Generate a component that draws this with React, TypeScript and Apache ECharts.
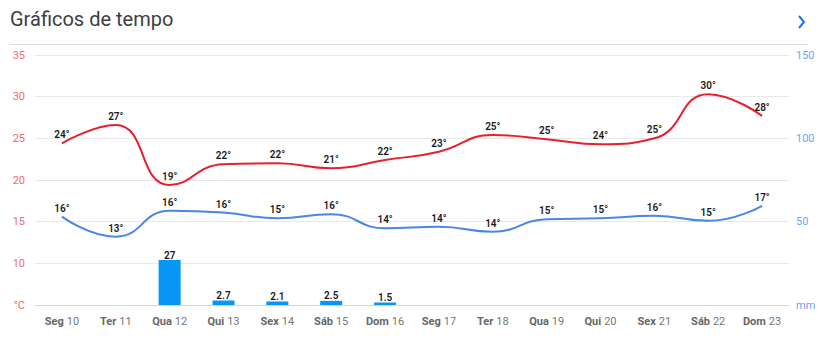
import React, { useEffect, useRef } from "react";
import * as echarts from "echarts";

const days = ["Seg", "Ter", "Qua", "Qui", "Sex", "Sáb", "Dom", "Seg", "Ter", "Qua", "Qui", "Sex", "Sáb", "Dom"];
const dates = ["10", "11", "12", "13", "14", "15", "16", "17", "18", "19", "20", "21", "22", "23"];
const maxTemp = [24.4, 26.6, 19.4, 21.9, 22.0, 21.4, 22.4, 23.4, 25.4, 24.9, 24.3, 25.0, 30.3, 27.7];
const minTemp = [15.6, 13.2, 16.3, 16.1, 15.4, 15.9, 14.2, 14.4, 13.8, 15.3, 15.4, 15.7, 15.1, 16.9];
const rain: (number | null)[] = [null, null, 27, 2.7, 2.1, 2.5, 1.5, null, null, null, null, null, null, null];

export default function App() {
  const ref = useRef<HTMLDivElement>(null);
  useEffect(() => {
    if (!ref.current) return;
    const chart = echarts.init(ref.current, null, { renderer: "svg" });
    const categories = days.map((d, i) => `${d}|${dates[i]}`);
    const tempLabel = {
      show: true,
      position: "top" as const,
      distance: 3,
      fontSize: 10,
      fontWeight: 600,
      color: "#1a1a1a",
      fontFamily: "Roboto",
      formatter: (p: any) => `${Math.round(p.value)}°`,
    };
    chart.setOption({
      animation: false,
      textStyle: { fontFamily: "Roboto" },
      grid: { left: 35, right: 35, top: 55, bottom: 49 },
      graphic: [
        {
          type: "text",
          left: 10,
          top: 9,
          style: { text: "Gráficos de tempo", fontSize: 20, fontFamily: "Roboto", fill: "#3c4043" },
        },
        {
          type: "line",
          shape: { x1: 10, y1: 44.5, x2: 808, y2: 44.5 },
          style: { stroke: "#dcdcdc", lineWidth: 1 },
        },
        {
          type: "polyline",
          shape: { points: [[799, 16], [804, 22], [799, 28]] },
          style: { stroke: "#1a73e8", lineWidth: 2, fill: null },
        },
      ],
      xAxis: {
        type: "category",
        data: categories,
        boundaryGap: true,
        axisLine: { lineStyle: { color: "#ccd6eb" } },
        axisTick: { alignWithLabel: true, interval: 0, length: 7, lineStyle: { color: "#ccd6eb" } },
        axisLabel: {
          interval: 0,
          margin: 10,
          formatter: (v: string) => {
            const [d, n] = v.split("|");
            return `{d|${d}} {n|${n}}`;
          },
          rich: {
            d: { fontSize: 11, fontWeight: "bold", color: "#666", fontFamily: "Roboto" },
            n: { fontSize: 11, color: "#777", fontFamily: "Roboto" },
          },
        },
      },
      yAxis: [
        {
          type: "value",
          min: 5,
          max: 35,
          interval: 5,
          splitLine: { lineStyle: { color: "#e8e8e8" } },
          axisLine: { show: false },
          axisTick: { show: false },
          axisLabel: {
            margin: 10,
            fontSize: 11,
            color: "#f26b6b",
            formatter: (v: number) => (v === 5 ? "°C" : String(v)),
          },
        },
        {
          type: "value",
          min: 0,
          max: 150,
          interval: 25,
          splitLine: { show: false },
          axisLine: { show: false },
          axisTick: { show: false },
          axisLabel: {
            margin: 7,
            fontSize: 11,
            color: "#6fa3f5",
            formatter: (v: number) => (v === 0 ? "mm" : v % 50 === 0 ? String(v) : ""),
          },
        },
      ],
      series: [
        {
          type: "bar",
          yAxisIndex: 1,
          data: rain,
          barWidth: 22,
          itemStyle: { color: "#0796f5" },
          label: {
            show: true,
            position: "top",
            distance: 0,
            fontSize: 10,
            fontWeight: 600,
            color: "#1a1a1a",
            formatter: (p: any) => String(p.value),
          },
        },
        {
          type: "line",
          data: maxTemp,
          smooth: 0.5,
          showSymbol: true,
          symbol: "circle",
          symbolSize: 1,
          itemStyle: { color: "rgba(0,0,0,0)" },
          lineStyle: { color: "#e8202d", width: 2 },
          label: tempLabel,
        },
        {
          type: "line",
          data: minTemp,
          smooth: 0.5,
          showSymbol: true,
          symbol: "circle",
          symbolSize: 1,
          itemStyle: { color: "rgba(0,0,0,0)" },
          lineStyle: { color: "#4a86e8", width: 2 },
          label: tempLabel,
        },
      ],
    });
    return () => chart.dispose();
  }, []);
  return <div ref={ref} style={{ position: "absolute", left: 0, top: 0, width: 824, height: 354 }} />;
}
